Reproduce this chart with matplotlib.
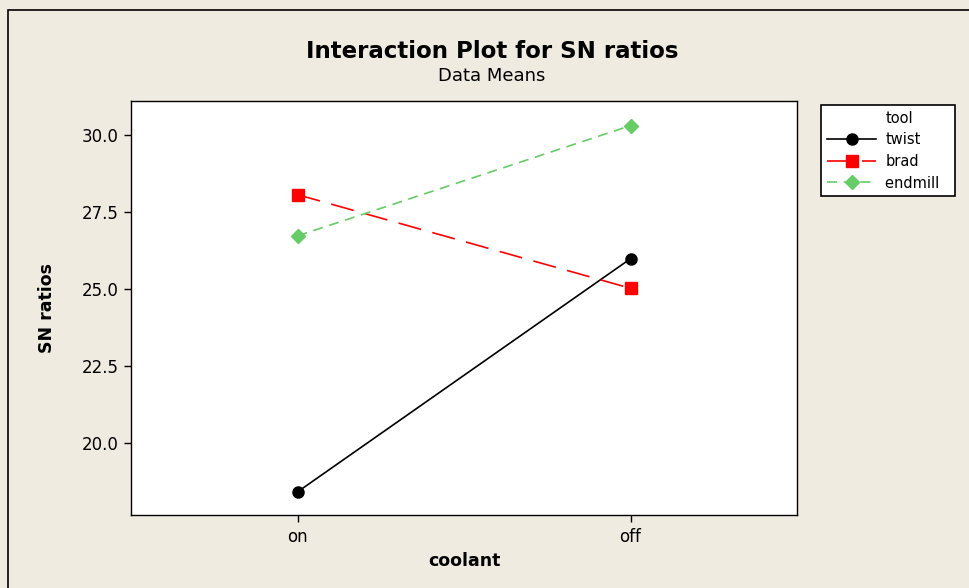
import matplotlib.pyplot as plt
from matplotlib.lines import Line2D
from matplotlib.patches import Rectangle

# means of SN ratios per coolant level, one series per tool
coolant = ["on", "off"]
tools = ["twist", "brad", "endmill"]
twist = [18.41, 25.98]
brad = [28.06, 25.02]
endmill = [26.72, 30.30]
y_ticks = [20.0, 22.5, 25.0, 27.5, 30.0]

bg = "#efebe1"
fig = plt.figure(figsize=(9.69, 5.88), dpi=100, facecolor=bg)

# outer frame of the graph window
fig.patches.append(Rectangle((8 / 969, -0.1), 1.2, 1.1 - 10 / 588,
                             transform=fig.transFigure, fill=False,
                             edgecolor="black", linewidth=1.2))

ax = fig.add_axes([131 / 969, 1 - 515 / 588, 666 / 969, 414 / 588])
ax.set_facecolor("white")

x = range(len(coolant))
ax.plot(x, twist, color="black", linewidth=1.2, marker="o", markersize=8,
        label=tools[0])
ax.plot(x, brad, color="#ff0000", linewidth=1.2, marker="s", markersize=8,
        dashes=(14, 7), label=tools[1])
ax.plot(x, endmill, color="#66cc66", linewidth=1.2, marker="D", markersize=7.5,
        dashes=(6, 4), label=tools[2])

ax.set_xlim(-0.5, 1.5)
ax.set_ylim(17.66, 31.1)
ax.set_xticks(list(x))
ax.set_xticklabels(coolant)
ax.set_yticks(y_ticks)
ax.set_yticklabels([f"{v:.1f}" for v in y_ticks])
ax.tick_params(labelsize=12, direction="out", length=5, width=1, pad=4)
for s in ax.spines.values():
    s.set_linewidth(1)

ax.set_xlabel("coolant", fontsize=12.5, fontweight="bold", labelpad=5)
ax.set_ylabel("SN ratios", fontsize=12.5, fontweight="bold", labelpad=18)

fig.text(0.5075, 1 - 52 / 588, "Interaction Plot for SN ratios",
         ha="center", va="center", fontsize=16.5, fontweight="bold")
fig.text(0.5075, 1 - 76 / 588, "Data Means", ha="center", va="center",
         fontsize=13)

# legend with the factor name as a first, handle-less row
handles, labels = ax.get_legend_handles_labels()
header = Line2D([], [], linestyle="none")
leg = fig.legend([header] + handles, ["tool"] + labels,
                 loc="upper left", bbox_to_anchor=(821 / 969, 1 - 105 / 588),
                 fontsize=10.5, frameon=True, fancybox=False,
                 edgecolor="black", framealpha=1, handlelength=3.4,
                 borderpad=0.4, borderaxespad=0, labelspacing=0.45,
                 handletextpad=0.6)
leg.get_frame().set_linewidth(1.2)
# widen the frame a little on the right
leg.get_texts()[3].set_text("endmill  ")

fig.savefig("out.png", dpi=100, facecolor=bg)
